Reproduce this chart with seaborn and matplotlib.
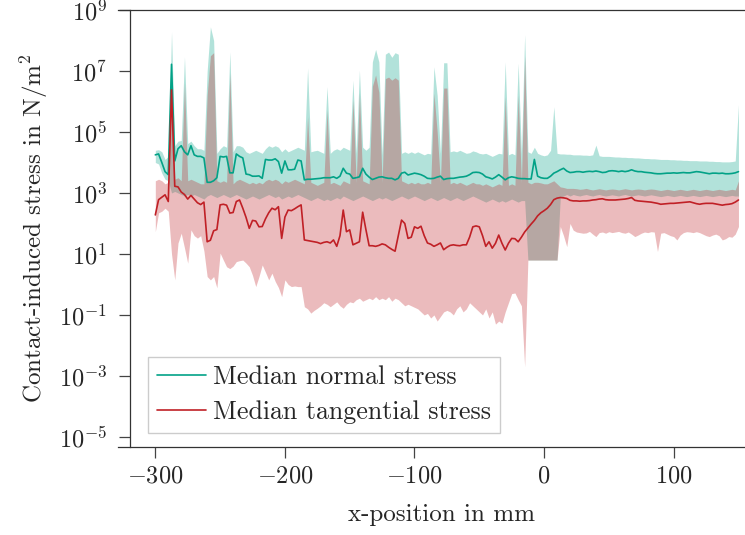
import numpy as np
import pandas as pd
import matplotlib
matplotlib.use("Agg")
import matplotlib.pyplot as plt
import matplotlib.ticker as mticker
import seaborn as sns

# x-position of the samples in mm
x_mm = np.arange(-300, 150.1, 2.5)

# all stress values below are log10(stress in N/m^2)
log_med_normal = [
    4.25, 4.28, 4.00, 3.70, 3.60, 7.22, 4.05, 4.45, 4.55, 4.35,
    4.25, 4.55, 4.25, 4.20, 4.20, 4.15, 3.35, 3.35, 3.40, 3.50,
    4.20, 4.18, 4.20, 3.66, 3.66, 4.28, 4.20, 4.15, 3.62, 3.60,
    3.55, 3.55, 3.56, 3.48, 4.10, 4.08, 4.08, 4.12, 4.03, 3.65,
    4.05, 3.76, 3.76, 3.78, 4.08, 4.05, 3.43, 3.45, 3.45, 3.46,
    3.47, 3.48, 3.50, 3.50, 3.50, 3.53, 3.48, 3.55, 3.81, 3.65,
    3.62, 3.48, 3.50, 3.53, 3.81, 3.62, 3.52, 3.44, 3.48, 3.52,
    3.53, 3.50, 3.48, 3.48, 3.43, 3.48, 3.65, 3.68, 3.59, 3.62,
    3.65, 3.63, 3.60, 3.55, 3.48, 3.47, 3.48, 3.52, 3.55, 3.44,
    3.47, 3.48, 3.48, 3.50, 3.52, 3.53, 3.55, 3.60, 3.67, 3.68,
    3.67, 3.62, 3.53, 3.50, 3.46, 3.52, 3.60, 3.52, 3.43, 3.50,
    3.53, 3.51, 3.48, 3.47, 3.47, 3.46, 3.46, 4.10, 3.55, 3.50,
    3.48, 3.48, 3.55, 3.65, 3.70, 3.76, 3.81, 3.72, 3.67, 3.68,
    3.70, 3.70, 3.68, 3.70, 3.71, 3.70, 3.72, 3.70, 3.67, 3.68,
    3.72, 3.73, 3.72, 3.70, 3.72, 3.70, 3.72, 3.76, 3.72, 3.70,
    3.70, 3.68, 3.67, 3.66, 3.64, 3.63, 3.63, 3.64, 3.65, 3.65,
    3.66, 3.65, 3.66, 3.67, 3.66, 3.66, 3.68, 3.70, 3.69, 3.67,
    3.65, 3.63, 3.65, 3.65, 3.64, 3.65, 3.63, 3.63, 3.64, 3.66,
    3.70,
]
log_med_tang = [
    2.28, 2.78, 2.86, 2.94, 2.72, 6.38, 3.22, 3.20, 3.03, 2.95,
    2.80, 2.92, 2.80, 2.68, 2.62, 2.70, 1.40, 1.45, 1.76, 1.80,
    2.61, 2.63, 2.60, 2.34, 2.36, 2.72, 2.77, 2.50, 2.20, 1.84,
    2.10, 2.08, 1.89, 1.90, 2.15, 2.35, 2.50, 2.45, 2.55, 1.51,
    2.21, 2.44, 2.42, 2.48, 2.55, 2.61, 1.46, 1.44, 1.42, 1.40,
    1.38, 1.34, 1.38, 1.40, 1.36, 1.46, 1.25, 1.60, 2.44, 1.73,
    1.79, 1.30, 1.35, 1.40, 2.37, 1.80, 1.27, 1.27, 1.25, 1.28,
    1.33, 1.30, 1.22, 1.15, 1.09, 1.60, 2.11, 2.00, 1.51, 1.55,
    1.89, 1.84, 1.91, 1.60, 1.36, 1.32, 1.25, 1.30, 1.36, 1.14,
    1.22, 1.28, 1.30, 1.28, 1.27, 1.30, 1.30, 1.55, 1.89, 1.92,
    1.89, 1.60, 1.25, 1.40, 1.19, 1.35, 1.62, 1.35, 1.13, 1.35,
    1.51, 1.50, 1.40, 1.55, 1.72, 1.85, 1.98, 2.10, 2.25, 2.35,
    2.42, 2.50, 2.62, 2.78, 2.83, 2.85, 2.84, 2.82, 2.76, 2.74,
    2.74, 2.73, 2.74, 2.74, 2.75, 2.77, 2.78, 2.80, 2.81, 2.78,
    2.77, 2.77, 2.77, 2.78, 2.79, 2.80, 2.82, 2.85, 2.76, 2.74,
    2.73, 2.72, 2.71, 2.70, 2.68, 2.66, 2.63, 2.64, 2.65, 2.66,
    2.66, 2.67, 2.68, 2.69, 2.70, 2.71, 2.68, 2.65, 2.63, 2.65,
    2.66, 2.66, 2.66, 2.64, 2.62, 2.60, 2.62, 2.63, 2.65, 2.70,
    2.77,
]
# spread of the normal stress (lower / upper edge of the band)
log_normal_lo = [
    4.00, 3.95, 3.65, 3.45, 3.40, 3.00, 3.05, 3.00, 2.95, 2.90,
    2.95, 2.90, 2.95, 2.90, 2.85, 2.80, 2.90, 2.95, 2.90, 2.85,
    2.90, 2.95, 2.90, 2.85, 2.90, 2.95, 2.90, 2.85, 2.80, 2.85,
    2.90, 2.85, 2.80, 2.85, 2.90, 2.95, 2.90, 2.85, 2.90, 2.80,
    2.85, 2.90, 2.85, 2.90, 2.95, 2.90, 2.85, 2.80, 2.75, 2.80,
    2.85, 2.80, 2.75, 2.80, 2.75, 2.80, 2.85, 2.80, 2.90, 2.85,
    2.80, 2.75, 2.80, 2.85, 2.90, 2.85, 2.80, 2.75, 2.80, 2.85,
    2.80, 2.85, 2.80, 2.75, 2.80, 2.85, 2.90, 2.85, 2.80, 2.85,
    2.90, 2.85, 2.80, 2.75, 2.80, 2.85, 2.80, 2.75, 2.80, 2.85,
    2.80, 2.75, 2.80, 2.85, 2.80, 2.75, 2.80, 2.85, 2.90, 2.85,
    2.80, 2.75, 2.70, 2.75, 2.80, 2.75, 2.70, 2.75, 2.70, 2.75,
    2.80, 2.75, 2.70, 2.75, 2.75, 0.80, 0.80, 0.80, 0.80, 0.80,
    0.80, 0.80, 0.80, 0.80, 0.80, 2.85, 2.90, 2.95, 2.90, 2.95,
    2.92, 2.90, 2.93, 2.95, 2.92, 2.90, 2.93, 2.95, 2.92, 2.90,
    2.92, 2.94, 2.92, 2.90, 2.93, 2.95, 2.92, 2.90, 2.92, 2.94,
    2.92, 2.90, 2.92, 2.94, 2.92, 2.90, 2.88, 2.90, 2.92, 2.90,
    2.88, 2.90, 2.92, 2.90, 2.88, 2.90, 2.92, 2.90, 2.88, 2.90,
    2.92, 2.90, 2.88, 2.90, 2.92, 2.90, 2.88, 2.90, 2.92, 2.90,
    2.90,
]
log_normal_hi = [
    4.40, 4.42, 4.35, 4.10, 4.20, 8.29, 4.55, 4.70, 4.72, 7.47,
    4.62, 4.70, 4.55, 4.45, 4.45, 4.40, 7.00, 8.45, 8.00, 4.30,
    4.45, 4.55, 4.50, 7.63, 4.35, 4.55, 4.55, 4.50, 4.35, 4.30,
    4.35, 4.40, 4.35, 4.30, 4.45, 4.55, 4.50, 4.55, 4.50, 4.35,
    4.45, 4.35, 4.40, 4.45, 4.50, 4.45, 4.40, 7.10, 4.35, 4.38,
    4.40, 4.35, 4.30, 6.49, 4.30, 4.40, 4.45, 4.40, 4.50, 4.45,
    4.40, 6.70, 4.30, 7.03, 4.50, 4.40, 4.50, 7.30, 7.71, 7.30,
    4.25, 7.55, 7.62, 7.45, 7.60, 7.55, 4.30, 4.35, 4.30, 4.35,
    4.30, 4.35, 4.30, 4.25, 4.30, 4.28, 7.14, 6.20, 4.30, 7.27,
    7.27, 4.35, 4.38, 4.35, 4.40, 4.35, 4.30, 4.32, 4.38, 4.35,
    4.30, 4.28, 4.30, 4.25, 4.20, 4.25, 4.30, 4.28, 7.30, 4.25,
    4.30, 4.25, 7.26, 4.30, 8.20, 4.35, 4.30, 4.50, 4.30, 4.25,
    4.22, 4.25, 4.40, 5.83, 4.30, 4.28, 4.28, 4.27, 4.27, 4.25,
    4.25, 4.25, 4.24, 4.24, 4.23, 4.25, 4.57, 4.22, 4.20, 4.20,
    4.20, 4.19, 4.18, 4.18, 4.17, 4.17, 4.16, 4.16, 4.15, 4.15,
    4.14, 4.13, 4.13, 4.12, 4.12, 4.11, 4.10, 4.10, 4.10, 4.09,
    4.09, 4.08, 4.08, 4.07, 4.07, 4.06, 4.06, 4.06, 4.05, 4.05,
    4.05, 4.04, 4.04, 4.03, 4.03, 4.02, 4.02, 4.02, 4.03, 4.05,
    5.90,
]
# spread of the tangential stress
log_tang_lo = [
    1.73, 2.35, 2.40, 2.50, 2.40, 1.00, 0.15, 1.36, 1.68, 1.20,
    0.70, 1.79, 1.60, 1.52, 1.60, 1.10, 0.26, 0.15, 0.26, -0.11,
    1.03, 0.80, 0.58, 0.52, 0.60, 0.75, 0.78, 0.80, 0.70, 0.58,
    0.30, -0.07, 0.26, 0.64, 0.40, 0.15, 0.37, 0.10, -0.10, -0.40,
    0.15, 0.00, -0.07, -0.05, -0.07, -0.07, -0.73, -0.80, -0.94, -0.85,
    -0.78, -0.70, -0.60, -0.65, -0.73, -0.65, -0.57, -0.70, -0.78, -0.65,
    -0.57, -0.60, -0.50, -0.45, -0.55, -0.50, -0.45, -0.50, -0.40, -0.50,
    -0.45, -0.50, -0.40, -0.55, -0.45, -0.50, -0.60, -0.70, -0.65, -0.70,
    -0.75, -0.80, -0.90, -1.00, -0.95, -1.10, -1.00, -1.20, -1.05, -0.90,
    -0.85, -0.90, -1.00, -0.80, -0.70, -0.90, -0.80, -0.60, -0.70, -0.80,
    -0.90, -1.00, -0.80, -1.10, -0.90, -1.30, -1.20, -1.27, -0.90, -0.60,
    -0.30, -0.28, -0.50, -0.70, -2.70, 0.80, 0.80, 0.80, 0.80, 0.80,
    0.80, 0.80, 0.80, 0.80, 0.80, 1.90, 1.60, 1.24, 2.00, 1.78,
    1.72, 1.70, 1.68, 1.69, 1.74, 1.65, 1.57, 1.70, 1.72, 1.68,
    1.73, 1.70, 1.72, 1.74, 1.70, 1.68, 1.72, 1.65, 1.57, 1.62,
    1.68, 1.72, 1.70, 1.73, 1.72, 1.08, 1.68, 1.70, 1.65, 1.60,
    1.57, 1.46, 1.62, 1.70, 1.73, 1.72, 1.70, 1.73, 1.70, 1.65,
    1.60, 1.57, 1.62, 1.65, 1.60, 1.46, 1.50, 1.57, 1.55, 1.65,
    1.90,
]
log_tang_hi = [
    3.40, 3.45, 3.40, 3.30, 3.35, 7.00, 3.45, 3.50, 3.40, 6.60,
    3.40, 3.45, 3.40, 3.35, 3.30, 3.30, 6.20, 7.50, 7.60, 3.40,
    3.35, 3.40, 3.35, 6.93, 3.30, 3.40, 3.45, 3.40, 3.35, 3.30,
    3.35, 3.30, 3.35, 3.30, 3.40, 3.45, 3.40, 3.45, 3.40, 3.30,
    3.40, 3.35, 3.40, 3.45, 3.40, 3.35, 3.30, 5.50, 3.35, 3.30,
    3.25, 3.30, 3.35, 5.72, 3.30, 3.35, 3.30, 3.25, 3.40, 3.35,
    3.30, 6.05, 3.35, 6.28, 3.40, 3.35, 3.30, 6.50, 6.87, 6.30,
    3.35, 6.75, 6.80, 6.70, 6.78, 6.70, 3.40, 3.35, 3.30, 3.35,
    3.30, 3.35, 3.30, 3.30, 3.35, 3.30, 6.27, 5.00, 3.35, 6.44,
    6.44, 3.30, 3.35, 3.30, 3.35, 3.30, 3.25, 3.30, 3.35, 3.30,
    3.30, 3.25, 3.30, 3.25, 3.20, 3.25, 3.30, 3.25, 6.16, 3.25,
    3.30, 3.25, 6.20, 3.35, 7.50, 3.35, 3.30, 3.35, 3.35, 3.33,
    3.30, 3.30, 3.35, 3.40, 3.30, 3.20, 3.18, 3.15, 3.15, 3.15,
    3.14, 3.12, 3.13, 3.15, 3.12, 3.10, 3.12, 3.14, 3.12, 3.10,
    3.12, 3.13, 3.12, 3.10, 3.12, 3.14, 3.12, 3.10, 3.12, 3.13,
    3.12, 3.10, 3.12, 3.13, 3.12, 3.10, 3.08, 3.10, 3.12, 3.10,
    3.08, 3.10, 3.12, 3.10, 3.08, 3.10, 3.12, 3.10, 3.08, 3.10,
    3.12, 3.10, 3.08, 3.10, 3.12, 3.10, 3.08, 3.10, 3.12, 3.10,
    3.40,
]

teal = "#02a287"
red = "#c02026"

sns.set_theme(style="ticks")
plt.rcParams.update({
    "font.family": ["cmr10"],
    "mathtext.fontset": "cm",
    "axes.formatter.use_mathtext": True,
    "axes.unicode_minus": True,
})

df = pd.DataFrame({
    "x": x_mm,
    "normal": 10.0 ** np.array(log_med_normal),
    "tangential": 10.0 ** np.array(log_med_tang),
})

# the axes run a little past the right edge of the picture
fig = plt.figure(figsize=(7.45, 5.35), dpi=100)
ax = fig.add_axes([118 / 745, 88 / 535, 646 / 745, 437 / 535])
ax.set_yscale("log")

ax.fill_between(x_mm, 10.0 ** np.array(log_normal_lo), 10.0 ** np.array(log_normal_hi),
                color=teal, alpha=0.3, lw=0)
ax.fill_between(x_mm, 10.0 ** np.array(log_tang_lo), 10.0 ** np.array(log_tang_hi),
                color=red, alpha=0.3, lw=0)
sns.lineplot(data=df, x="x", y="normal", color=teal, lw=1.2,
             label="Median normal stress", ax=ax)
sns.lineplot(data=df, x="x", y="tangential", color=red, lw=1.2,
             label="Median tangential stress", ax=ax)

ax.set_xlim(-328.8, 169.7)
ax.set_ylim(10 ** -5.33, 1e9)
ax.set_xticks([-300, -200, -100, 0, 100])
ax.yaxis.set_major_locator(mticker.FixedLocator(10.0 ** np.arange(-5, 10, 2)))
ax.yaxis.set_minor_locator(mticker.NullLocator())
ax.xaxis.set_minor_locator(mticker.NullLocator())

ax.spines["right"].set_visible(False)
ax.spines["left"].set_position(("axes", 12 / 646))
for s in ["left", "top", "bottom"]:
    ax.spines[s].set_color("#333333")
    ax.spines[s].set_linewidth(0.9)
ax.tick_params(direction="out", length=8, width=0.9, color="#444444",
               labelsize=17.5)
ax.tick_params(axis="x", pad=5)
ax.tick_params(axis="y", pad=8.5)

ax.set_xlabel("x-position in mm", fontsize=18, labelpad=12)
ax.set_ylabel("Contact-induced stress in N/m$^2$", fontsize=18, labelpad=6)

ax.legend(loc="lower left", bbox_to_anchor=(30 / 646, 0.032), borderaxespad=0,
          frameon=True, fancybox=False, edgecolor="#cccccc", framealpha=1,
          fontsize=18.7, handlelength=1.9, handletextpad=0.27, borderpad=0.34,
          labelspacing=0.43)

fig.savefig("out.png", dpi=100)
